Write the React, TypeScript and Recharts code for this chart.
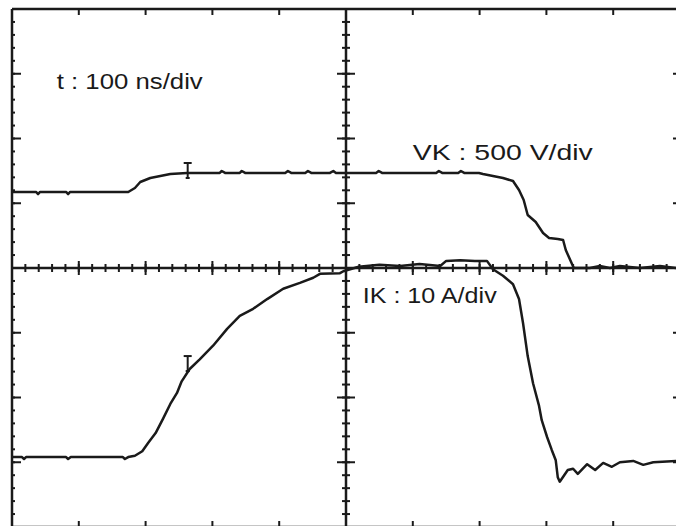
import {
  ComposedChart,
  Line,
  ReferenceDot,
  ReferenceLine,
  Scatter,
  XAxis,
  YAxis,
} from "recharts";

const INK = "#1a1a1a";
const FONT = "'Liberation Sans', Arial, sans-serif";

// VK trace (500 V/div), time in ns (100 ns/div)
const vkTime = [
  0, 36, 39, 42, 81, 84, 87, 174, 184, 192, 207, 222, 237, 262, 311, 314, 319,
  341, 344, 349, 409, 413, 418, 439, 443, 448, 476, 481, 485, 545, 549, 554,
  635, 639, 644, 668, 672, 677, 699, 705, 720, 735, 750, 759, 766, 772, 784,
  795, 804, 817, 825, 829, 837, 841, 865, 880, 895, 910, 940, 970, 994, 1000,
];
const vkVolts = [
  587, 587, 571, 587, 587, 571, 587, 587, 618, 664, 695, 710, 726, 734, 734,
  749, 734, 734, 749, 734, 734, 749, 734, 734, 749, 734, 734, 749, 734, 734,
  749, 734, 734, 749, 734, 734, 749, 734, 734, 726, 710, 695, 672, 602, 525,
  409, 355, 270, 232, 224, 216, 139, 46, 0, 0, 15, 0, 15, 0, 15, 0, 0,
];

// IK trace (10 A/div)
const ikTime = [
  0, 15, 18, 21, 81, 84, 88, 166, 169, 174, 184, 195, 204, 215, 226, 237, 247,
  254, 266, 281, 301, 322, 341, 361, 382, 406, 431, 451, 461, 491, 496, 519,
  550, 581, 610, 641, 650, 671, 693, 711, 720, 735, 750, 759, 765, 772, 780,
  789, 793, 801, 808, 814, 817, 820, 832, 840, 847, 861, 873, 885, 898, 910,
  930, 945, 960, 994, 1000,
];
const ikAmps = [
  -29.2, -29.2, -29.5, -29.2, -29.2, -29.5, -29.2, -29.2, -29.5, -29.2, -29.0,
  -28.3, -27.0, -25.5, -23.3, -21.0, -19.3, -17.5, -15.6, -14.1, -12.0, -9.4,
  -7.4, -6.3, -4.8, -3.2, -2.3, -1.5, -0.9, -0.8, -0.5, 0.2, 0.5, 0.3, 0.6,
  0.3, 1.1, 1.2, 1.1, 1.1, -0.2, -1.2, -2.5, -4.8, -8.5, -13.6, -17.8, -21.3,
  -23.5, -26.1, -28.1, -29.7, -32.3, -33.0, -31.2, -31.0, -31.8, -30.3, -31.2,
  -30.1, -30.7, -30.0, -29.8, -30.4, -30.0, -29.8, -29.8,
];

// graticule: 10 x 8 divisions, 5 minor steps each
const timeDivs = [0, 100, 200, 300, 400, 500, 600, 700, 800, 900, 1000];
const voltDivs = [-2000, -1500, -1000, -500, 0, 500, 1000, 1500, 2000];
const timeMinor = Array.from({ length: 51 }, (_, k) => k * 20);
const voltMinor = Array.from({ length: 41 }, (_, k) => -2000 + k * 100);

const vkData = vkTime.map((t, k) => ({ t, v: vkVolts[k] }));
const ikData = ikTime.map((t, k) => ({ t, i: ikAmps[k] }));

const centerHTicks = timeMinor.map((t) => ({ t, v: 0 }));
const centerHMajor = timeDivs.map((t) => ({ t, v: 0 }));
const centerVTicks = voltMinor.map((v) => ({ t: 500, v }));
const centerVMajor = voltDivs.map((v) => ({ t: 500, v }));
const topTicks = timeDivs.map((t) => ({ t, v: 2000 }));
const bottomTicks = timeDivs.map((t) => ({ t, v: -2000 }));
const leftTicks = voltDivs.map((v) => ({ t: 0, v }));
const leftMinor = voltMinor.map((v) => ({ t: 0, v }));
const rightTicks = voltDivs.map((v) => ({ t: 1000, v }));

const tick =
  (x0: number, x1: number, y0: number, y1: number) => (p: any) =>
    (
      <line
        x1={p.cx + x0}
        y1={p.cy + y0}
        x2={p.cx + x1}
        y2={p.cy + y1}
        stroke={INK}
        strokeWidth={2}
      />
    );

const label =
  (text: string, width: number) => (p: any) =>
    (
      <text
        x={p.cx}
        y={p.cy}
        fill={INK}
        fontSize={22}
        fontFamily={FONT}
        textLength={width}
        lengthAdjust="spacingAndGlyphs"
      >
        {text}
      </text>
    );

const cursor = (p: any) => (
  <g stroke={INK} strokeWidth={2} fill="none">
    <line x1={p.cx - 4} y1={p.cy} x2={p.cx + 4} y2={p.cy} />
    <line x1={p.cx} y1={p.cy} x2={p.cx} y2={p.cy + 15} />
    <line x1={p.cx - 2} y1={p.cy + 15} x2={p.cx + 2} y2={p.cy + 15} />
  </g>
);

export default function App() {
  return (
    <div
      style={{
        position: "fixed",
        top: 0,
        left: 0,
        width: 676,
        height: 526,
        overflow: "hidden",
        background: "#fff",
      }}
    >
      <ComposedChart
        width={690}
        height={530}
        margin={{ top: 9, right: 10, bottom: 3, left: 12 }}
      >
        <XAxis dataKey="t" type="number" domain={[0, 1000]} hide allowDataOverflow />
        <YAxis yAxisId="v" dataKey="v" type="number" domain={[-2000, 2000]} hide allowDataOverflow />
        <YAxis yAxisId="i" dataKey="i" type="number" domain={[-40, 40]} hide allowDataOverflow />

        <ReferenceLine yAxisId="v" y={2000} stroke={INK} strokeWidth={2.5} ifOverflow="visible" />
        <ReferenceLine yAxisId="v" y={-2000} stroke={INK} strokeWidth={2.5} ifOverflow="visible" />
        <ReferenceLine yAxisId="v" x={0} stroke={INK} strokeWidth={2.5} ifOverflow="visible" />
        <ReferenceLine yAxisId="v" x={1000} stroke={INK} strokeWidth={2.5} ifOverflow="visible" />
        <ReferenceLine yAxisId="v" x={500} stroke={INK} strokeWidth={2.5} />
        <ReferenceLine yAxisId="v" y={0} stroke={INK} strokeWidth={2.5} />

        <Scatter yAxisId="v" data={centerHTicks} shape={tick(0, 0, -4, 4)} isAnimationActive={false} />
        <Scatter yAxisId="v" data={centerHMajor} shape={tick(0, 0, -7, 7)} isAnimationActive={false} />
        <Scatter yAxisId="v" data={centerVTicks} shape={tick(-4, 4, 0, 0)} isAnimationActive={false} />
        <Scatter yAxisId="v" data={centerVMajor} shape={tick(-9, 9, 0, 0)} isAnimationActive={false} />
        <Scatter yAxisId="v" data={topTicks} shape={tick(0, 0, 0, 6)} isAnimationActive={false} />
        <Scatter yAxisId="v" data={bottomTicks} shape={tick(0, 0, -6, 0)} isAnimationActive={false} />
        <Scatter yAxisId="v" data={leftTicks} shape={tick(0, 9, 0, 0)} isAnimationActive={false} />
        <Scatter yAxisId="v" data={leftMinor} shape={tick(0, 3, 0, 0)} isAnimationActive={false} />
        <Scatter yAxisId="v" data={rightTicks} shape={tick(-7, 0, 0, 0)} isAnimationActive={false} />

        <Line
          yAxisId="v"
          data={vkData}
          dataKey="v"
          type="linear"
          stroke={INK}
          strokeWidth={2.5}
          strokeLinejoin="round"
          dot={false}
          isAnimationActive={false}
        />
        <Line
          yAxisId="i"
          data={ikData}
          dataKey="i"
          type="linear"
          stroke={INK}
          strokeWidth={2.5}
          strokeLinejoin="round"
          dot={false}
          isAnimationActive={false}
        />

        <ReferenceDot yAxisId="v" x={263} y={811} r={0} shape={cursor} ifOverflow="visible" />
        <ReferenceDot yAxisId="i" x={263} y={-13.6} r={0} shape={cursor} ifOverflow="visible" />

        <ReferenceDot yAxisId="v" x={67} y={1382} r={0} shape={label("t : 100 ns/div", 146)} ifOverflow="visible" />
        <ReferenceDot yAxisId="v" x={600} y={834} r={0} shape={label("VK : 500 V/div", 180)} ifOverflow="visible" />
        <ReferenceDot yAxisId="v" x={525} y={-270} r={0} shape={label("IK : 10 A/div", 134)} ifOverflow="visible" />
      </ComposedChart>
    </div>
  );
}
